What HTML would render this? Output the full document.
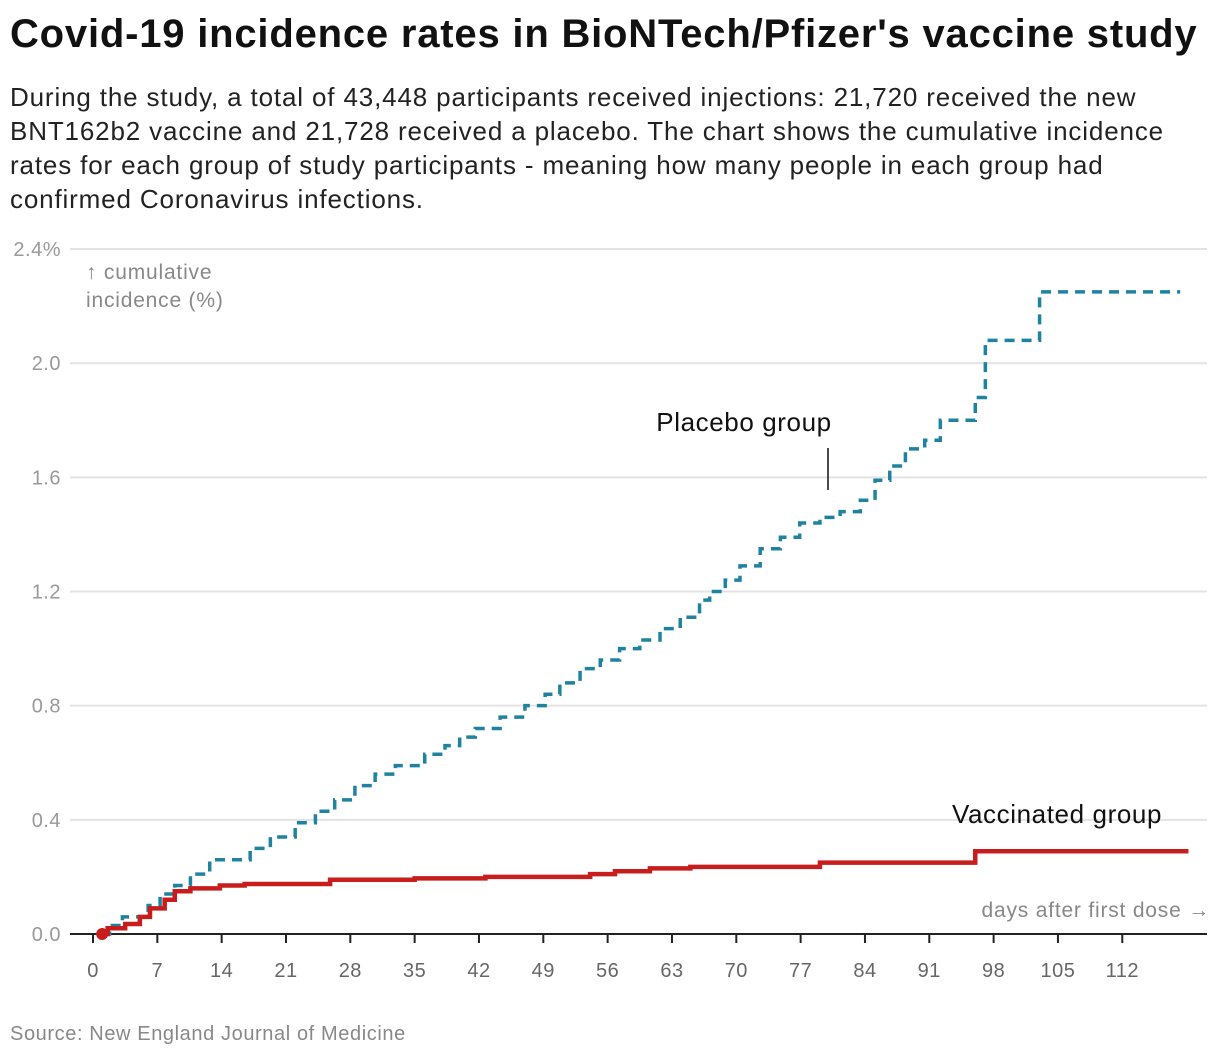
<!DOCTYPE html>
<html><head><meta charset="utf-8"><style>
body{margin:0;background:#fff;font-family:"Liberation Sans",sans-serif;}
#wrap{position:relative;width:1220px;height:1060px;overflow:hidden}
h1{position:absolute;left:10px;top:12px;margin:0;font-size:40px;font-weight:bold;color:#111;letter-spacing:0.8px;white-space:nowrap}
#sub{position:absolute;left:10px;top:80px;font-size:26px;line-height:34px;color:#222;margin:0;letter-spacing:0.85px;white-space:nowrap}
#src{position:absolute;left:10px;top:1023px;font-size:20px;color:#888;letter-spacing:0.6px}
svg{position:absolute;left:0;top:0}
</style></head><body><div id="wrap">
<h1>Covid-19 incidence rates in BioNTech/Pfizer's vaccine study</h1>
<p id="sub">During the study, a total of 43,448 participants received injections: 21,720 received the new<br>BNT162b2 vaccine and 21,728 received a placebo. The chart shows the cumulative incidence<br>rates for each group of study participants - meaning how many people in each group had<br>confirmed Coronavirus infections.</p>
<svg id="chart" width="1220" height="1060"></svg>
<div id="src">Source: New England Journal of Medicine</div>
</div>
<script>
const yTicks=[0,0.4,0.8,1.2,1.6,2.0,2.4];
const yTickLabels=["0.0","0.4","0.8","1.2","1.6","2.0","2.4%"];
const xTicks=[0,7,14,21,28,35,42,49,56,63,70,77,84,91,98,105,112];
const placeboDays=[1.0,1.8,3.2,6.0,7.3,8.9,10.6,12.7,17.1,19.3,22.0,24.2,26.3,28.5,30.7,32.9,36.1,38.3,39.9,41.6,44.3,47.0,49.2,50.8,53.0,55.2,57.3,59.5,61.7,63.9,66.0,67.1,68.8,70.4,72.6,74.8,76.9,79.1,81.3,83.5,85.1,86.7,88.4,90.5,92.2,96.0,97.1,103.0,118.3];
const placeboVals=[0,0.03,0.06,0.10,0.14,0.17,0.21,0.26,0.30,0.34,0.39,0.43,0.47,0.52,0.56,0.59,0.63,0.66,0.69,0.72,0.76,0.80,0.84,0.88,0.93,0.96,1.00,1.03,1.07,1.11,1.17,1.20,1.24,1.29,1.35,1.39,1.44,1.46,1.48,1.52,1.59,1.64,1.70,1.73,1.80,1.88,2.08,2.25,2.25];
const vaccDays=[1.0,1.6,3.5,5.1,6.2,7.8,8.9,10.6,13.8,16.5,25.8,35.0,42.7,54.1,56.8,60.6,65.0,79.1,96.0,119.2];
const vaccVals=[0,0.02,0.035,0.06,0.09,0.12,0.15,0.16,0.17,0.175,0.19,0.195,0.2,0.21,0.22,0.23,0.235,0.25,0.29,0.29];
const X=d=>93+d*9.19, Y=v=>934-v*285.4;
const svg=document.getElementById('chart'),NS='http://www.w3.org/2000/svg';
function mk(t,a,txt){const e=document.createElementNS(NS,t);for(const k in a)e.setAttribute(k,a[k]);if(txt!==undefined)e.textContent=txt;svg.appendChild(e);return e;}
yTicks.forEach((v,i)=>{
 if(v>0){const g=mk('line',{x1:70,x2:1207,y1:Y(v),y2:Y(v),stroke:'#e3e3e3','stroke-width':2});
 
 }
 const t=mk('text',{x:61,y:Y(v)+7,'text-anchor':'end','font-size':20,fill:'#999','letter-spacing':0.5},yTickLabels[i]);
 
 
});
const ax=mk('line',{x1:70,x2:1207,y1:934,y2:934,stroke:'#222','stroke-width':2});


xTicks.forEach(d=>{
 const l=mk('line',{x1:X(d),x2:X(d),y1:934,y2:943,stroke:'#222','stroke-width':2});
 
 
 const t=mk('text',{x:X(d),y:977,'text-anchor':'middle','font-size':20,fill:'#666','letter-spacing':0.5},String(d));
 
 
});
function step(ds,vs){let p='M'+X(ds[0])+','+Y(vs[0]);for(let i=1;i<ds.length;i++){p+='H'+X(ds[i])+'V'+Y(vs[i]);}return p;}
const pl=mk('path',{d:step(placeboDays,placeboVals),fill:'none',stroke:'#1f83a0','stroke-width':3.5,'stroke-dasharray':'10,7'});


const vl=mk('path',{d:step(vaccDays,vaccVals),fill:'none',stroke:'#c81d1d','stroke-width':4.5});


const dot=mk('circle',{cx:X(vaccDays[0]),cy:Y(0),r:6,fill:'#c81d1d'});


const a1=mk('text',{x:744,y:431,'text-anchor':'middle','font-size':26,fill:'#111','letter-spacing':0.6},'Placebo group');


const al=mk('line',{x1:828,x2:828,y1:448,y2:490,stroke:'#111','stroke-width':1.5});


const a2=mk('text',{x:1057,y:823,'text-anchor':'middle','font-size':26,fill:'#111','letter-spacing':0.6},'Vaccinated group');


const yt1=mk('text',{x:86,y:279,'font-size':21,fill:'#888','letter-spacing':0.8},'↑ cumulative');


const yt2=mk('text',{x:86,y:307,'font-size':21,fill:'#888','letter-spacing':0.8},'incidence (%)');


const xt=mk('text',{x:1210,y:917,'text-anchor':'end','font-size':21,fill:'#888','letter-spacing':0.8},'days after first dose →');


</script></body></html>
